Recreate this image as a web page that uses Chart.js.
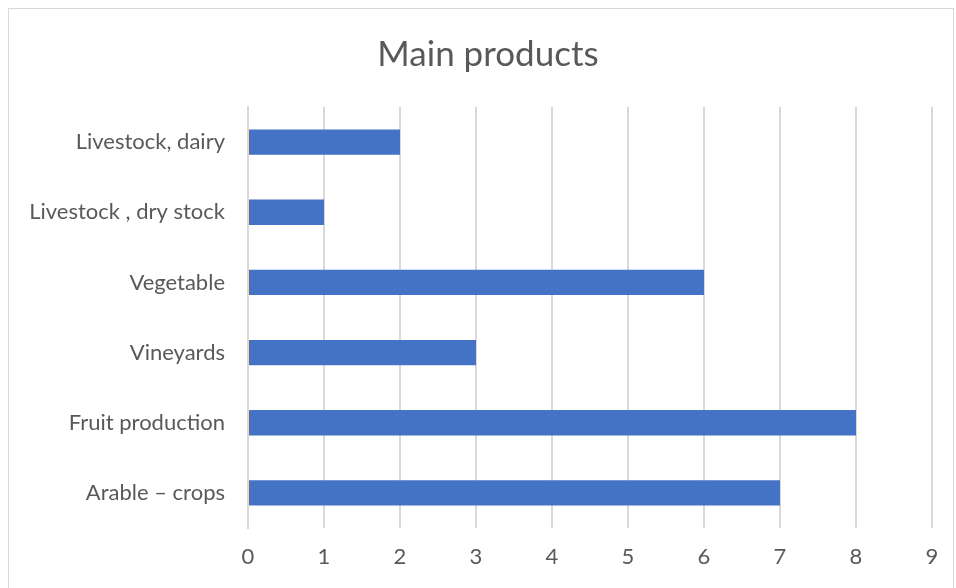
<!DOCTYPE html>
<html>
<head>
<meta charset="utf-8">
<script src="https://cdn.jsdelivr.net/npm/chart.js@4"></script>
<style>
  html, body { margin: 0; padding: 0; background: #fff; }
  #wrap { position: relative; width: 956px; height: 588px; overflow: hidden; }
  #frame { position: absolute; left: 8px; top: 8px; width: 946px; height: 600px; border: 1px solid #d9d9d9; box-sizing: border-box; }
  canvas { position: absolute; left: 0; top: 0; }
</style>
</head>
<body>
<div id="wrap">
  <div id="frame"></div>
  <canvas id="c" width="956" height="588"></canvas>
</div>
<script>
const categories = ["Livestock, dairy", "Livestock , dry stock", "Vegetable", "Vineyards", "Fruit production", "Arable \u2013 crops"];
const values = [2, 1, 6, 3, 8, 7];
const xTicks = [0, 1, 2, 3, 4, 5, 6, 7, 8, 9];
const titleText = "Main products";

const FONT = "Lato, 'Open Sans', sans-serif";
const TXT = "#595959";
const GRID = "#d9d9d9";

// shift the title's horizontal box so it is centred like the original
const titleShift = {
  id: "titleShift",
  afterLayout(chart) {
    if (chart.titleBlock) { chart.titleBlock.left = 44; }
  }
};

new Chart(document.getElementById("c"), {
  type: "bar",
  data: {
    labels: categories,
    datasets: [{
      data: values,
      backgroundColor: "#4472C4",
      borderWidth: 0,
      barPercentage: 0.36,
      categoryPercentage: 1.0
    }]
  },
  options: {
    indexAxis: "y",
    responsive: false,
    animation: false,
    layout: { padding: { left: 0, right: 24, top: 0, bottom: 0 } },
    plugins: {
      legend: { display: false },
      tooltip: { enabled: false },
      title: {
        display: true,
        text: titleText,
        color: TXT,
        font: { family: FONT, size: 35, weight: "normal", lineHeight: 1.2 },
        padding: { top: 34, bottom: 31 }
      }
    },
    scales: {
      x: {
        min: xTicks[0],
        max: xTicks[xTicks.length - 1],
        afterBuildTicks: (s) => { s.ticks = xTicks.map(v => ({ value: v })); },
        afterFit: (s) => { s.height = 60; },
        grid: { color: GRID, lineWidth: 2, drawTicks: false },
        border: { display: false },
        ticks: { color: TXT, padding: 16, font: { family: FONT, size: 22 } }
      },
      y: {
        afterFit: (s) => { s.width = 248; },
        grid: { display: false, drawTicks: false },
        border: { display: true, color: GRID, width: 2 },
        ticks: { color: TXT, padding: 23, font: { family: FONT, size: 22 } }
      }
    }
  },
  plugins: [titleShift]
});
</script>
</body>
</html>
